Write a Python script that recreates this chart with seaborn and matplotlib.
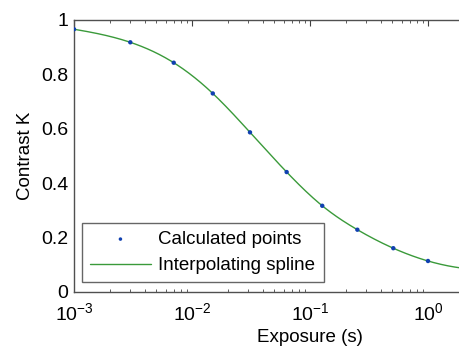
import numpy as np
import pandas as pd
import seaborn as sns
import matplotlib
matplotlib.use("Agg")
import matplotlib.pyplot as plt
from matplotlib.ticker import LogLocator, NullFormatter

# Data
exposure = [0.001, 0.003, 0.007, 0.015, 0.031, 0.0634, 0.127, 0.252, 0.508, 1.0]
contrast = [0.966, 0.918, 0.843, 0.730, 0.587, 0.441, 0.317, 0.229, 0.161, 0.114]
x_ticks = [1e-3, 1e-2, 1e-1, 1e0]
y_ticks = [0, 0.2, 0.4, 0.6, 0.8, 1]


def spline_not_a_knot(x, y, xq):
    x = np.asarray(x, float); y = np.asarray(y, float)
    n = len(x); h = np.diff(x)
    A = np.zeros((n, n)); b = np.zeros(n)
    for i in range(1, n - 1):
        A[i, i - 1] = h[i - 1]; A[i, i] = 2 * (h[i - 1] + h[i]); A[i, i + 1] = h[i]
        b[i] = 6 * ((y[i + 1] - y[i]) / h[i] - (y[i] - y[i - 1]) / h[i - 1])
    A[0, 0] = -1 / h[0]; A[0, 1] = 1 / h[0] + 1 / h[1]; A[0, 2] = -1 / h[1]
    A[-1, -3] = -1 / h[-2]; A[-1, -2] = 1 / h[-2] + 1 / h[-1]; A[-1, -1] = -1 / h[-1]
    M = np.linalg.solve(A, b)
    idx = np.clip(np.searchsorted(x, xq) - 1, 0, n - 2)
    x0 = x[idx]; x1 = x[idx + 1]; hh = x1 - x0
    a = (x1 - xq) / hh; bb = (xq - x0) / hh
    return (a * y[idx] + bb * y[idx + 1]
            + ((a ** 3 - a) * M[idx] + (bb ** 3 - bb) * M[idx + 1]) * hh ** 2 / 6)


lx = np.log10(exposure)
lq = np.linspace(-3, 1, 400)
curve = pd.DataFrame({"x": 10 ** lq, "y": spline_not_a_knot(lx, contrast, lq)})
pts = pd.DataFrame({"x": exposure, "y": contrast})

sns.set_theme(style="white")
plt.rcParams["font.family"] = ["Liberation Sans", "DejaVu Sans"]
plt.rcParams["mathtext.fontset"] = "custom"
plt.rcParams["mathtext.rm"] = "Liberation Sans"
plt.rcParams["mathtext.it"] = "Liberation Sans:italic"
plt.rcParams["text.color"] = "black"
plt.rcParams["axes.labelcolor"] = "black"
plt.rcParams["xtick.color"] = "black"
plt.rcParams["ytick.color"] = "black"

fig = plt.figure(figsize=(4.59, 3.49), dpi=100)
left = 74 / 459
dec = 118 / 459
ax = fig.add_axes([left, 57 / 349, 4 * dec, 272 / 349])

sns.lineplot(data=curve, x="x", y="y", ax=ax, color="#3a9a3a", lw=1.0,
             label="Interpolating spline", zorder=2)
sns.scatterplot(data=pts, x="x", y="y", ax=ax, color="#1040b0", s=10,
                edgecolor="none", marker="o", label="Calculated points", zorder=3)

ax.set_xscale("log")
ax.set_xlim(1e-3, 10)
ax.set_ylim(0, 1)
ax.set_xticks(x_ticks)
ax.xaxis.set_minor_locator(LogLocator(base=10, subs=np.arange(2, 10)))
ax.xaxis.set_minor_formatter(NullFormatter())
ax.set_yticks(y_ticks)
ax.set_yticklabels(["0", "0.2", "0.4", "0.6", "0.8", "1"])
ax.set_xlabel("Exposure (s)", fontsize=13.5, labelpad=4)
ax.set_ylabel("Contrast K", fontsize=13.5, labelpad=5)
ax.tick_params(axis="both", which="major", direction="in", length=4, width=0.8,
               labelsize=14, color="#404040", labelcolor="black", top=True, right=True)
ax.tick_params(axis="y", which="major", pad=4)
ax.tick_params(axis="x", which="major", pad=7)
ax.tick_params(axis="x", which="minor", direction="in", length=2, width=0.6,
               color="#404040", top=True, bottom=True)
for s in ax.spines.values():
    s.set_color("#505050"); s.set_linewidth(1.0)

handles, labels = ax.get_legend_handles_labels()
order = [labels.index("Calculated points"), labels.index("Interpolating spline")]
leg = ax.legend([handles[i] for i in order], [labels[i] for i in order],
                loc="lower left", bbox_to_anchor=(82 / 459, 67 / 349, 242 / 459, 60 / 349),
                bbox_transform=fig.transFigure, mode="expand", borderaxespad=0,
                fontsize=13.5, frameon=True, fancybox=False, borderpad=0.4,
                handlelength=3.3, handletextpad=0.35, labelspacing=0.5, markerscale=0.8)
leg.get_frame().set_edgecolor("#404040")
leg.get_frame().set_linewidth(1.0)

fig.savefig("out.png", dpi=100)
